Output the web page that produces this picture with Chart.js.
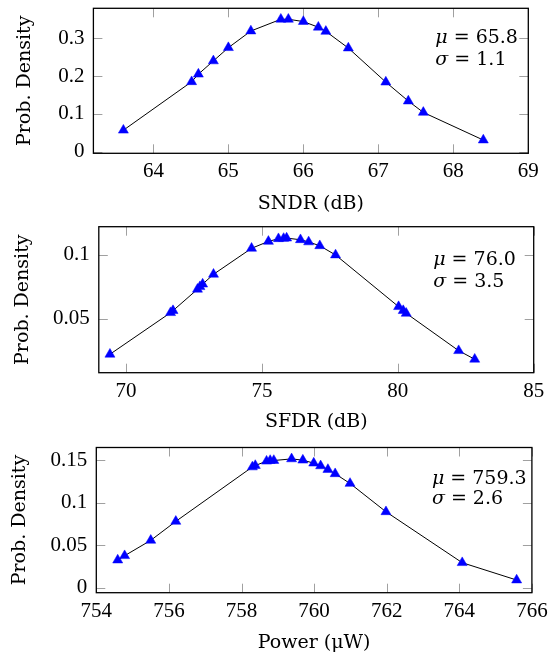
<!DOCTYPE html>
<html>
<head>
<meta charset="utf-8">
<script src="https://cdn.jsdelivr.net/npm/chart.js@4.4.0/dist/chart.umd.min.js"></script>
<style>
  html, body { margin: 0; padding: 0; background: #fff; }
  #wrap { position: relative; width: 559px; height: 658px; }
  .panel { position: absolute; left: 0; width: 559px; }
</style>
</head>
<body>
<div id="wrap">
  <div class="panel" style="top:0;height:216px"><canvas id="sndr"></canvas></div>
  <div class="panel" style="top:216px;height:221px"><canvas id="sfdr"></canvas></div>
  <div class="panel" style="top:437px;height:221px"><canvas id="power"></canvas></div>
</div>
<script>
// SNDR
const sndrX = [63.6, 64.51, 64.6, 64.8, 65.0, 65.3, 65.7, 65.8, 66.0, 66.2, 66.3, 66.6, 67.1, 67.4, 67.6, 68.4];
const sndrY = [0.057, 0.185, 0.205, 0.240, 0.275, 0.319, 0.350, 0.350, 0.344, 0.329, 0.318, 0.274, 0.184, 0.134, 0.104, 0.031];
const sndrTicksX = [64, 65, 66, 67, 68, 69];
const sndrTicksY = [0, 0.1, 0.2, 0.3];
const sndrStats = ['65.8', '1.1'];

// SFDR
const sfdrX = [69.41, 71.64, 71.73, 72.63, 72.72, 72.82, 73.22, 74.62, 75.24, 75.61, 75.8, 75.91, 76.42, 76.72, 77.13, 77.71, 80.03, 80.2, 80.31, 82.24, 82.83];
const sfdrY = [0.0222, 0.0547, 0.0563, 0.073, 0.075, 0.077, 0.0847, 0.105, 0.1104, 0.1125, 0.1127, 0.113, 0.1117, 0.110, 0.107, 0.0998, 0.0594, 0.0563, 0.0542, 0.025, 0.0183];
const sfdrTicksX = [70, 75, 80, 85];
const sfdrTicksY = [0.05, 0.1];
const sfdrStats = ['76.0', '3.5'];

// Power
const powerX = [754.59, 754.78, 755.5, 756.19, 758.3, 758.38, 758.69, 758.79, 758.89, 759.38, 759.69, 759.99, 760.18, 760.38, 760.58, 760.99, 761.98, 764.08, 765.58];
const powerY = [0.0325, 0.0376, 0.0557, 0.078, 0.142, 0.1437, 0.1488, 0.1496, 0.1496, 0.1515, 0.150, 0.1465, 0.1433, 0.139, 0.134, 0.1226, 0.0893, 0.0294, 0.0090];
const powerTicksX = [754, 756, 758, 760, 762, 764, 766];
const powerTicksY = [0, 0.05, 0.1, 0.15];
const powerStats = ['759.3', '2.6'];

const TICK_FONT = '"Liberation Serif", serif';
const TEXT_FONT = '"DejaVu Serif", serif';
Chart.defaults.font.family = TICK_FONT;
Chart.defaults.font.size = 21;
Chart.defaults.color = '#000';

// box, inner tick marks and the mu/sigma note
const framePlugin = {
  id: 'frame',
  beforeDatasetsDraw(chart) {
    const { ctx, chartArea: a, scales: { x, y } } = chart;
    const len = 9;
    ctx.save();
    ctx.strokeStyle = '#a0a0a0';
    ctx.lineWidth = 1;
    ctx.beginPath();
    x.ticks.forEach(t => {
      const px = Math.round(x.getPixelForValue(t.value)) + 0.5;
      ctx.moveTo(px, a.bottom); ctx.lineTo(px, a.bottom - len);
      ctx.moveTo(px, a.top); ctx.lineTo(px, a.top + len);
    });
    y.ticks.forEach(t => {
      const py = Math.round(y.getPixelForValue(t.value)) + 0.5;
      ctx.moveTo(a.left, py); ctx.lineTo(a.left + len, py);
      ctx.moveTo(a.right, py); ctx.lineTo(a.right - len, py);
    });
    ctx.stroke();
    ctx.restore();
  },
  afterDraw(chart, args, opts) {
    const { ctx, chartArea: a } = chart;
    ctx.save();
    ctx.strokeStyle = '#000';
    ctx.lineWidth = 1.3;
    ctx.strokeRect(a.left, a.top, a.right - a.left, a.bottom - a.top);

    const x0 = a.right + opts.dx;
    const lines = [['\u03bc', ' = ' + opts.stats[0]], ['\u03c3', ' = ' + opts.stats[1]]];
    ctx.fillStyle = '#000';
    ctx.textBaseline = 'alphabetic';
    lines.forEach((l, i) => {
      const yy = a.top + opts.dy[i];
      ctx.font = 'italic 19px ' + TEXT_FONT;
      ctx.fillText(l[0], x0, yy);
      const w = ctx.measureText(l[0]).width;
      ctx.font = '19px ' + TEXT_FONT;
      ctx.fillText(l[1], x0 + w, yy);
    });
    ctx.restore();
  }
};

function noPad(s) {
  s.paddingTop = 0; s.paddingBottom = 0; s.paddingLeft = 0; s.paddingRight = 0;
}

function makePanel(id, xs, ys, p) {
  const pts = xs.map((v, i) => ({ x: v, y: ys[i] }));
  return new Chart(document.getElementById(id), {
    type: 'scatter',
    data: {
      datasets: [{
        data: pts,
        showLine: true,
        borderColor: '#000',
        borderWidth: 1,
        pointStyle: 'triangle',
        pointRadius: 5.8,
        pointBackgroundColor: '#0000ff',
        pointBorderColor: '#0000ff',
        pointBorderWidth: 0.5
      }]
    },
    options: {
      responsive: true,
      maintainAspectRatio: false,
      animation: false,
      layout: { padding: { top: p.top, right: p.right, left: 0, bottom: 0 } },
      plugins: {
        legend: { display: false },
        tooltip: { enabled: false },
        frame: { dx: p.dx, dy: p.dy, stats: p.stats }
      },
      scales: {
        x: {
          type: 'linear',
          min: p.xmin, max: p.xmax,
          grid: { display: false, drawTicks: false },
          border: { display: false },
          afterBuildTicks: s => { s.ticks = p.ticksX.map(v => ({ value: v })); },
          afterFit: s => { s.height = p.xh; noPad(s); },
          ticks: { padding: 6, maxRotation: 0, callback: v => String(v) },
          title: { display: true, text: p.xtitle, font: { family: TEXT_FONT, size: 19 }, padding: { top: 0, bottom: p.xtp } }
        },
        y: {
          type: 'linear',
          min: p.ymin, max: p.ymax,
          grid: { display: false, drawTicks: false },
          border: { display: false },
          afterBuildTicks: s => { s.ticks = p.ticksY.map(v => ({ value: v })); },
          afterFit: s => { s.width = p.yw; noPad(s); },
          ticks: { padding: 9, callback: v => String(v) },
          title: { display: true, text: 'Prob. Density', font: { family: TEXT_FONT, size: 19 }, padding: { top: p.ytp, bottom: 0 } }
        }
      }
    },
    plugins: [framePlugin]
  });
}

makePanel('sndr', sndrX, sndrY, {
  xmin: 63.2, xmax: 69, ymin: -0.004, ymax: 0.379,
  ticksX: sndrTicksX, ticksY: sndrTicksY,
  top: 8.3, right: 30.7, yw: 93.4, xh: 62.7,
  xtitle: 'SNDR (dB)', xtp: 0.5, ytp: 14,
  dx: -93, dy: [34.4, 56.7], stats: sndrStats
});

makePanel('sfdr', sfdrX, sfdrY, {
  xmin: 69, xmax: 85, ymin: 0.0078, ymax: 0.1219,
  ticksX: sfdrTicksX, ticksY: sfdrTicksY,
  top: 10.7, right: 25.3, yw: 98.8, xh: 64.3,
  xtitle: 'SFDR (dB)', xtp: 3.9, ytp: 11.6,
  dx: -100.5, dy: [38.3, 60], stats: sfdrStats
});

makePanel('power', powerX, powerY, {
  xmin: 754, xmax: 766, ymin: -0.0059, ymax: 0.1649,
  ticksX: powerTicksX, ticksY: powerTicksY,
  top: 10.5, right: 27.1, yw: 96.3, xh: 65.3,
  xtitle: 'Power (\u03bcW)', xtp: 3.2, ytp: 8.6,
  dx: -100, dy: [36, 56], stats: powerStats
});
</script>
</body>
</html>
